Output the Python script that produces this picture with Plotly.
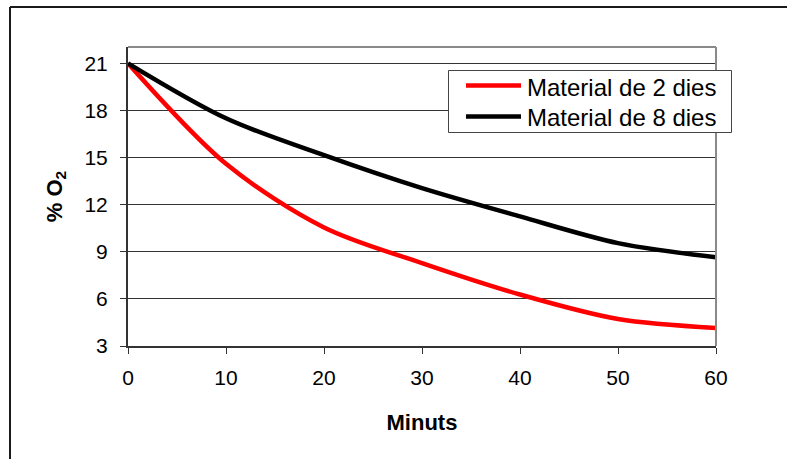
import plotly.graph_objects as go

# Oxygen level over time for two batches of material
minuts = [0, 10, 20, 30, 40, 50, 60]
o2_2_dies = [21.0, 14.6, 10.55, 8.28, 6.28, 4.72, 4.15]
o2_8_dies = [21.0, 17.5, 15.15, 13.05, 11.25, 9.55, 8.65]

series_names = ["Material de 2 dies", "Material de 8 dies"]
series_colors = ["#ff0000", "#000000"]

y_ticks = [3, 6, 9, 12, 15, 18, 21]
x_ticks = [0, 10, 20, 30, 40, 50, 60]

FONT = "Liberation Sans, Arial, sans-serif"

# plot area in pixels, used to place the legend box and the outer frame
W, H = 787, 459
L, R, T, B = 128, 71, 47, 113
PW, PH = W - L - R, H - T - B


def px(x):
    return (x - L) / PW


def py(y):
    return (H - B - y) / PH


fig = go.Figure()
for name, ys, col in zip(series_names, [o2_2_dies, o2_8_dies], series_colors):
    fig.add_trace(go.Scatter(
        x=minuts, y=ys, name=name, mode="lines", showlegend=False,
        line=dict(color=col, width=4.5, shape="spline", smoothing=0.9),
    ))

shapes = [
    # plot area frame, top and right sides
    dict(type="line", xref="paper", yref="paper", x0=0, x1=1, y0=1, y1=1,
         line=dict(color="#8a8a8a", width=2)),
    dict(type="line", xref="paper", yref="paper", x0=1, x1=1, y0=0, y1=1,
         line=dict(color="#8a8a8a", width=2)),
    # chart area border
    dict(type="line", xref="paper", yref="paper", x0=px(10), x1=px(800), y0=py(7), y1=py(7),
         line=dict(color="#1a1a1a", width=2)),
    dict(type="line", xref="paper", yref="paper", x0=px(10), x1=px(10), y0=py(470), y1=py(7),
         line=dict(color="#1a1a1a", width=2)),
    # legend box
    dict(type="rect", xref="paper", yref="paper", x0=px(448.5), x1=px(731.5),
         y0=py(132.5), y1=py(70.5), fillcolor="white",
         line=dict(color="#444444", width=1), layer="above"),
]
annotations = []
for i, (name, col) in enumerate(zip(series_names, series_colors)):
    yrow = 85.5 + i * 31
    shapes.append(dict(type="line", xref="paper", yref="paper",
                       x0=px(466), x1=px(521), y0=py(yrow), y1=py(yrow),
                       line=dict(color=col, width=4.5), layer="above"))
    annotations.append(dict(xref="paper", yref="paper", x=px(525), y=py(yrow + 1.5),
                            xanchor="left", yanchor="middle", showarrow=False,
                            text=name, font=dict(size=24, family=FONT, color="black")))

fig.update_layout(
    width=W, height=H,
    margin=dict(l=L, r=R, t=T, b=B),
    paper_bgcolor="white", plot_bgcolor="white",
    font=dict(family=FONT, color="black", size=21),
    showlegend=False,
    xaxis=dict(
        range=[0, 60], tickvals=x_ticks, ticks="outside", ticklen=6,
        tickcolor="#333333", showline=True, linecolor="#333333", linewidth=2,
        showgrid=False, zeroline=False, tickfont=dict(size=21), ticklabelstandoff=6,
        title=dict(text="<b>Minuts</b>", font=dict(size=22), standoff=26),
    ),
    yaxis=dict(
        range=[3, 22.04], tickvals=y_ticks, ticks="outside", ticklen=6,
        tickcolor="#333333", showline=True, linecolor="#333333", linewidth=2,
        showgrid=True, gridcolor="#333333", gridwidth=1, zeroline=False,
        tickfont=dict(size=21), ticklabelstandoff=8,
        title=dict(text="<b>% O<sub>2</sub></b>", font=dict(size=22), standoff=16),
    ),
    shapes=shapes,
    annotations=annotations,
)

fig.write_html("out.html")
